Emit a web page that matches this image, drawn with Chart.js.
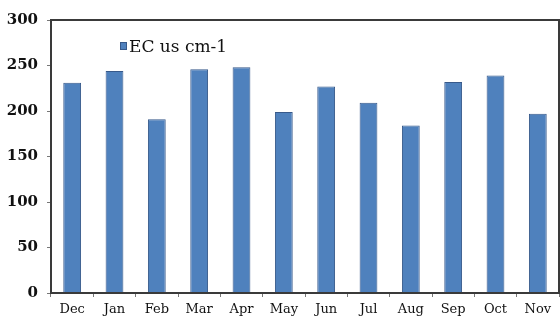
<!DOCTYPE html>
<html>
<head>
<meta charset="utf-8">
<script src="https://cdn.jsdelivr.net/npm/chart.js@4/dist/chart.umd.min.js"></script>
<style>
  html, body { margin: 0; padding: 0; background: #ffffff; }
  #wrap { width: 560px; height: 320px; position: relative; }
</style>
</head>
<body>
<div id="wrap"><canvas id="c" width="560" height="320"></canvas></div>
<script>
// Monthly electrical conductivity (EC, µS/cm)
const months = ['Dec', 'Jan', 'Feb', 'Mar', 'Apr', 'May', 'Jun', 'Jul', 'Aug', 'Sep', 'Oct', 'Nov'];
const ecValues = [231, 244, 191, 246, 248, 199, 227, 209, 184, 232, 239, 197];
const yTicks = [0, 50, 100, 150, 200, 250, 300];
const seriesLabel = 'EC us cm-1';

const SERIF = '"DejaVu Serif", "Liberation Serif", serif';
const FILL = '#4F81BD';
const EDGE = '#37598a';

// Frame around the plot area plus an in-plot legend
const framePlugin = {
  id: 'frame',
  afterDraw(chart) {
    const { ctx, chartArea: a } = chart;
    ctx.save();
    ctx.strokeStyle = '#3a3a3a';
    ctx.lineWidth = 2;
    ctx.strokeRect(a.left, a.top, a.right - a.left, a.bottom - a.top);

    // legend entry
    const ds = chart.data.datasets[0];
    const lx = a.left + 69, ly = a.top + 22;
    ctx.fillStyle = ds.backgroundColor;
    ctx.fillRect(lx, ly, 7, 8);
    ctx.strokeStyle = ds.borderColor;
    ctx.lineWidth = 1;
    ctx.strokeRect(lx + 0.5, ly + 0.5, 6, 7);
    ctx.fillStyle = '#111111';
    ctx.font = '17px ' + SERIF;
    ctx.textBaseline = 'alphabetic';
    ctx.textAlign = 'left';
    ctx.fillText(ds.label, lx + 9, ly + 10);
    ctx.restore();
  }
};

new Chart(document.getElementById('c'), {
  type: 'bar',
  data: {
    labels: months,
    datasets: [{
      label: seriesLabel,
      data: ecValues,
      backgroundColor: FILL,
      borderColor: EDGE,
      borderWidth: 1,
      barPercentage: 0.42,
      categoryPercentage: 1.0
    }]
  },
  options: {
    responsive: false,
    animation: false,
    devicePixelRatio: 1,
    layout: { padding: { top: 20, right: 1, left: 0, bottom: 0 } },
    plugins: {
      legend: { display: false },
      tooltip: { enabled: false }
    },
    scales: {
      x: {
        offset: true,
        grid: {
          offset: true,
          drawOnChartArea: false,
          drawTicks: true,
          tickLength: 4,
          color: '#777777'
        },
        border: { display: true, color: '#3a3a3a', width: 2 },
        ticks: {
          color: '#111111',
          font: { family: SERIF, size: 13 },
          padding: 5,
          maxRotation: 0,
          autoSkip: false
        },
        afterFit(scale) { scale.height = 27; }
      },
      y: {
        min: 0,
        max: 300,
        afterBuildTicks(scale) { scale.ticks = yTicks.map(v => ({ value: v })); },
        grid: {
          drawOnChartArea: false,
          drawTicks: true,
          tickLength: 4,
          color: '#777777'
        },
        border: { display: true, color: '#3a3a3a', width: 2 },
        ticks: {
          color: '#111111',
          font: { family: SERIF, size: 15, weight: 'bold' },
          padding: 9
        },
        afterFit(scale) { scale.width = 51; }
      }
    }
  },
  plugins: [framePlugin]
});
</script>
</body>
</html>
